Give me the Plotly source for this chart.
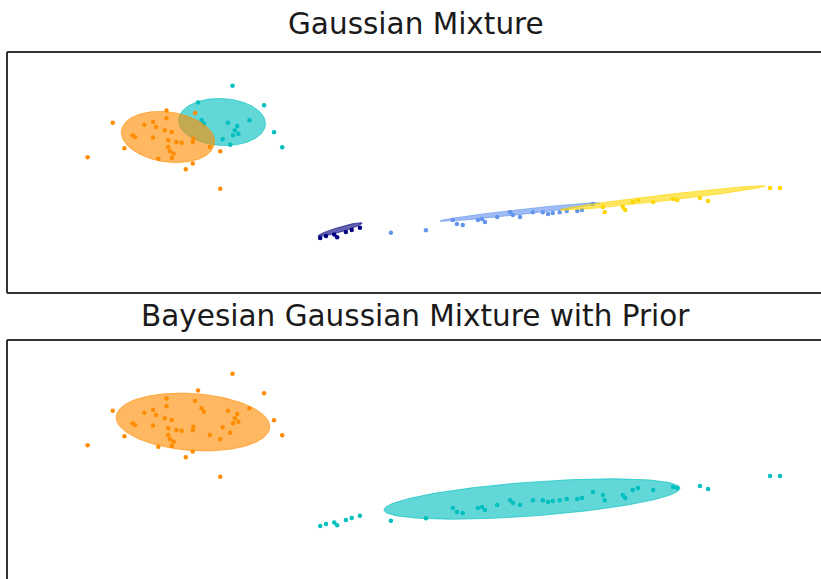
import numpy as np
import plotly.graph_objects as go

# ---------------- data ----------------
COLORS = {"navy": "#000080", "c": "#00BFBF", "cornflowerblue": "#6495ED",
          "gold": "#FFD700", "darkorange": "#FF8C00"}

# sample points (same points in both panels)
blob_x = [-5.14, -4.60, -5.73, -7.19, -7.62, -6.99, -4.43, -4.29, -5.35, -5.94,
          -5.82, -6.41, -6.18, -6.15, -6.27, -6.27, -5.78, -5.67, -5.63, -6.65,
          -6.50, -6.45, -6.30, -6.18, -6.81, -6.85, -6.50, -6.24, -6.10, -6.01,
          -5.81, -5.82, -5.53, -5.35, -5.31, -5.18, -5.22, -5.06, -5.10, -5.04,
          -5.13, -4.85, -6.24, -6.21]
blob_y = [4.74, 4.01, 4.11, 3.36, 2.07, 2.41, 3.00, 2.44, 0.89, 1.62,
          1.84, 2.01, 2.04, 2.20, 3.82, 3.53, 3.72, 3.45, 3.32, 3.28,
          3.39, 3.20, 3.08, 3.01, 2.83, 2.89, 2.81, 2.70, 2.64, 2.61,
          2.76, 2.64, 2.45, 2.29, 2.74, 2.54, 3.36, 3.24, 3.08, 2.95,
          2.89, 3.45, 2.45, 2.29]
blob_gmm = ["c", "c", "c", "darkorange", "darkorange", "darkorange", "c", "c",
            "darkorange", "darkorange", "darkorange", "darkorange", "darkorange",
            "darkorange", "darkorange", "darkorange", "darkorange", "c", "c",
            "darkorange", "darkorange", "darkorange", "darkorange", "darkorange",
            "darkorange", "darkorange", "darkorange", "darkorange", "darkorange",
            "darkorange", "darkorange", "darkorange", "darkorange", "darkorange",
            "c", "c", "c", "c", "c", "c", "c", "c", "darkorange", "darkorange"]

line_x = [-3.64, -3.54, -3.40, -3.35, -3.20, -3.10, -2.96,
          -2.43, -1.83, -1.37, -1.30, -1.20, -0.94, -0.87, -0.82, -0.61, -0.39,
          -0.34, -0.22, 0.00, 0.17, 0.26, 0.34, 0.46, 0.58, 0.76, 0.84, 1.03,
          1.20, 1.23, 1.54, 1.58, 1.71, 1.80, 2.06, 2.40, 2.47, 2.86, 3.00,
          4.06, 4.23]
line_y = [-0.95, -0.87, -0.82, -0.92, -0.72, -0.65, -0.56,
          -0.75, -0.66, -0.27, -0.42, -0.46, -0.27, -0.24, -0.35, -0.16, 0.02,
          -0.09, -0.16, 0.02, 0.02, -0.05, -0.01, 0.02, 0.06, 0.06, 0.10, 0.32,
          0.21, 0.02, 0.21, 0.10, 0.40, 0.47, 0.40, 0.51, 0.47, 0.55, 0.44,
          0.92, 0.92]
line_gmm = ["navy"] * 7 + ["cornflowerblue"] * 21 + ["gold"] * 13

pts_x = blob_x + line_x
pts_y = blob_y + line_y
gmm_labels = blob_gmm + line_gmm
bgm_labels = ["darkorange"] * len(blob_x) + ["c"] * len(line_x)

# fitted components: colour, mean, covariance
gmm_colors = ["navy", "c", "cornflowerblue", "gold", "darkorange"]
gmm_means = [[-3.30, -0.63], [-5.32, 3.385], [-0.22, 0.025], [2.22, 0.547], [-6.245, 2.825]]
gmm_covs = [[[0.0710, 0.0452], [0.0452, 0.0335]],
            [[0.2766, -0.0224], [-0.0224, 0.3874]],
            [[0.9373, 0.2298], [0.2298, 0.0608]],
            [[1.5387, 0.3927], [0.3927, 0.1066]],
            [[0.319, -0.070], [-0.070, 0.457]]]

bgm_colors = ["c", "darkorange"]
bgm_means = [[-0.015, 0.062], [-5.817, 2.937]]
bgm_covs = [[[3.2082, 0.5134], [0.5134, 0.2847]],
            [[0.8647, -0.1138], [-0.1138, 0.5835]]]

titles = ["Gaussian Mixture", "Bayesian Gaussian Mixture with Prior"]

# ---------------- helpers ----------------
def rgba(hexc, a):
    h = hexc.lstrip("#")
    r, g, b = int(h[0:2], 16), int(h[2:4], 16), int(h[4:6], 16)
    return f"rgba({r},{g},{b},{a})"


def ellipse_xy(mean, cov, n=160):
    vals, vecs = np.linalg.eigh(np.array(cov, dtype=float))
    axes = np.sqrt(2.0 * vals)
    t = np.linspace(0, 2 * np.pi, n)
    circ = np.vstack([np.cos(t) * axes[0], np.sin(t) * axes[1]])
    p = vecs @ circ
    return p[0] + mean[0], p[1] + mean[1]


W, H = 821, 579
fig = go.Figure()


def add_panel(labels, colors, means, covs, xa, ya):
    lab = np.array(labels)
    px = np.array(pts_x)
    py = np.array(pts_y)
    for col, m, cv in zip(colors, means, covs):
        sel = lab == col
        fig.add_trace(go.Scatter(x=px[sel], y=py[sel], mode="markers",
                                 marker=dict(color=COLORS[col], size=4.5, line=dict(width=0)),
                                 xaxis=xa, yaxis=ya, showlegend=False, hoverinfo="skip"))
        ex, ey = ellipse_xy(m, cv)
        fig.add_trace(go.Scatter(x=ex, y=ey, mode="lines", fill="toself",
                                 fillcolor=rgba(COLORS[col], 0.62),
                                 line=dict(color=rgba(COLORS[col], 0.62), width=1),
                                 xaxis=xa, yaxis=ya, showlegend=False, hoverinfo="skip"))


add_panel(gmm_labels, gmm_colors, gmm_means, gmm_covs, "x", "y")
add_panel(bgm_labels, bgm_colors, bgm_means, bgm_covs, "x2", "y2")

# pixel geometry of the panels
left_px, top1, bot1, top2, bot2 = 7, 52, 293, 340, 581
xdom = [left_px / W, 1.0]
ax_common = dict(showgrid=False, zeroline=False, showticklabels=False, ticks="",
                 showline=False, fixedrange=True)
x_right = -9 + (W - left_px) * 14.0 / (825 - left_px)
y2_low = -3 + (bot2 - H) * 9.0 / (bot2 - top2)

fig.update_layout(
    width=W, height=H, margin=dict(l=0, r=0, t=0, b=0),
    paper_bgcolor="white", plot_bgcolor="white",
    xaxis=dict(domain=xdom, range=[-9, x_right], anchor="y", **ax_common),
    yaxis=dict(domain=[1 - bot1 / H, 1 - top1 / H], range=[-3, 6], anchor="x", **ax_common),
    xaxis2=dict(domain=xdom, range=[-9, x_right], anchor="y2", **ax_common),
    yaxis2=dict(domain=[0, 1 - top2 / H], range=[y2_low, 6], anchor="x2", **ax_common),
)

# frame lines (left, top, bottom for panel 1; left, top for panel 2)
lc = dict(color="#333333", width=2)
def hline(ypx):
    fig.add_shape(type="line", xref="paper", yref="paper", x0=left_px / W, x1=1.0,
                  y0=1 - ypx / H, y1=1 - ypx / H, line=lc)
def vline(y0px, y1px):
    fig.add_shape(type="line", xref="paper", yref="paper", x0=left_px / W, x1=left_px / W,
                  y0=1 - y0px / H, y1=1 - y1px / H, line=lc)
hline(top1); hline(bot1); vline(top1, bot1)
hline(top2); vline(top2, H + 2)

for txt, ypx in zip(titles, [24, 316]):
    fig.add_annotation(text=txt, xref="paper", yref="paper", x=416 / W, y=1 - ypx / H,
                       xanchor="center", yanchor="middle", showarrow=False,
                       font=dict(family="DejaVu Sans", size=29.5, color="#1a1a1a"))

fig.write_html("out.html", config={"displayModeBar": False},
               post_script="document.body.style.margin='0px';document.body.style.overflow='hidden';")
